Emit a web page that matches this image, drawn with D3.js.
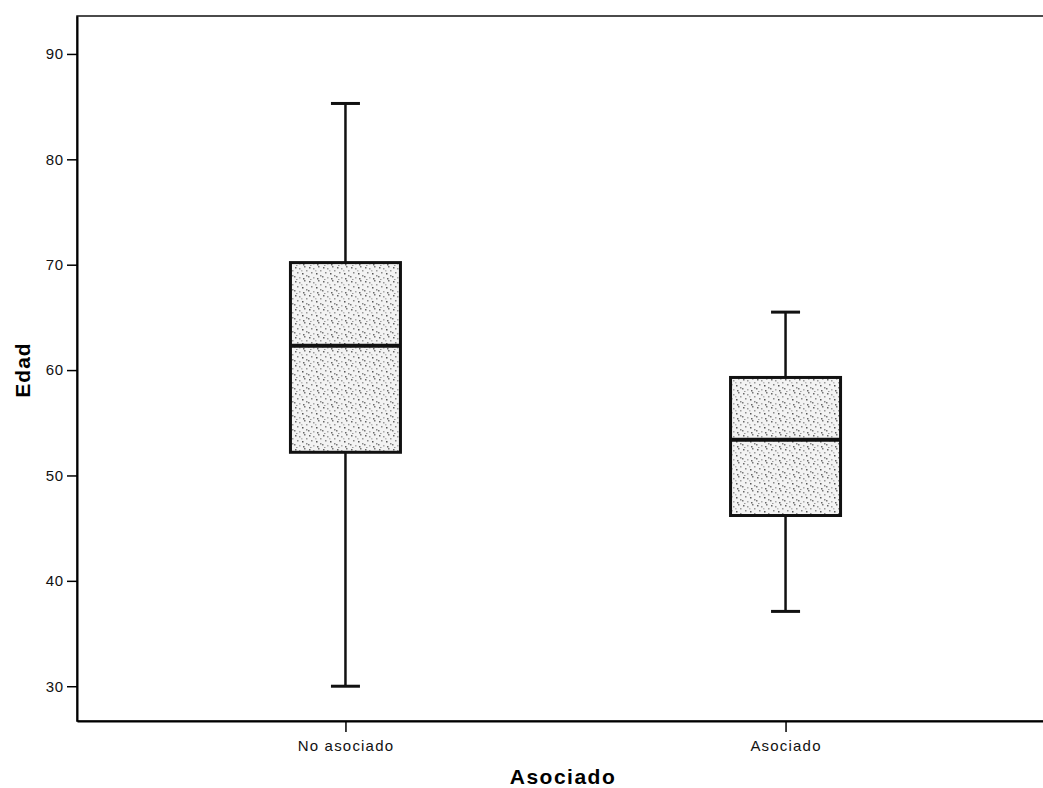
<!DOCTYPE html>
<html>
<head>
<meta charset="utf-8">
<script src="https://cdn.jsdelivr.net/npm/d3@7"></script>
<style>
  body { margin: 0; background: #fff; }
  text { font-family: "Liberation Sans", Arial, sans-serif; }
</style>
</head>
<body>
<div id="chart"></div>
<script>
// Box plot of Edad by Asociado

const width = 1043;
const height = 788;
const margin = { left: 77, right: -11, top: 16, bottom: 67 };

// data
const groups = ["No asociado", "Asociado"];
const whiskerLow = [30.0, 37.1];
const quartile1 = [52.2, 46.2];
const medians = [62.3, 53.4];
const quartile3 = [70.2, 59.3];
const whiskerHigh = [85.3, 65.5];
const yTicks = [30, 40, 50, 60, 70, 80, 90];

const boxes = groups.map((g, i) => ({
  name: g,
  lo: whiskerLow[i], q1: quartile1[i], med: medians[i], q3: quartile3[i], hi: whiskerHigh[i]
}));

const svg = d3.select("#chart")
  .append("svg")
  .attr("width", width)
  .attr("height", height);

// stipple texture for the boxes
const defs = svg.append("defs");
const pat = defs.append("pattern")
  .attr("id", "stipple")
  .attr("patternUnits", "userSpaceOnUse")
  .attr("width", 14)
  .attr("height", 14);
pat.append("rect").attr("width", 14).attr("height", 14).attr("fill", "#f3f3f3");
const specks = [[1,1,"#666"],[5,2,"#999"],[10,0,"#777"],[3,6,"#888"],[8,7,"#555"],[12,4,"#999"],
  [0,10,"#777"],[5,11,"#aaa"],[9,12,"#666"],[12,9,"#888"],[2,13,"#999"],[7,4,"#bbb"]];
specks.forEach(s => pat.append("rect")
  .attr("x", s[0]).attr("y", s[1]).attr("width", 1.5).attr("height", 1.5).attr("fill", s[2]));

// scales
const x = d3.scalePoint()
  .domain(groups)
  .range([margin.left, width - margin.right])
  .padding(0.61);

const y = d3.scaleLinear()
  .domain([26.7, 93.6])
  .range([height - margin.bottom, margin.top]);

// frame
svg.append("rect")
  .attr("x", margin.left)
  .attr("y", margin.top)
  .attr("width", width - margin.right - margin.left)
  .attr("height", height - margin.bottom - margin.top)
  .attr("fill", "none")
  .attr("stroke", "#111")
  .attr("stroke-width", 1.5);

// y axis
svg.append("g")
  .attr("transform", `translate(${margin.left},0)`)
  .call(d3.axisLeft(y).tickValues(yTicks).tickSize(10).tickPadding(3).tickSizeOuter(0))
  .call(g => g.select(".domain").attr("stroke-width", 2))
  .call(g => g.selectAll(".tick line").attr("stroke-width", 1.5))
  .call(g => g.selectAll(".tick text")
    .attr("font-size", "15px")
    .attr("letter-spacing", "0.8px")
    .attr("fill", "#111"));

// x axis
svg.append("g")
  .attr("transform", `translate(0,${height - margin.bottom})`)
  .call(d3.axisBottom(x).tickSize(11).tickPadding(8).tickSizeOuter(0))
  .call(g => g.select(".domain").attr("stroke-width", 2))
  .call(g => g.selectAll(".tick line").attr("stroke-width", 1.5))
  .call(g => g.selectAll(".tick text")
    .attr("font-size", "15px")
    .attr("letter-spacing", "1.2px")
    .attr("fill", "#111"));

// axis titles
svg.append("text")
  .attr("x", 563)
  .attr("y", 784)
  .attr("text-anchor", "middle")
  .attr("font-size", "21px")
  .attr("font-weight", "bold")
  .attr("letter-spacing", "1.5px")
  .text("Asociado");

svg.append("text")
  .attr("transform", "translate(30,370) rotate(-90)")
  .attr("text-anchor", "middle")
  .attr("font-size", "21px")
  .attr("font-weight", "bold")
  .attr("letter-spacing", "1px")
  .text("Edad");

// boxes
const boxW = 110;
const capW = 29;

const bx = svg.selectAll(".box")
  .data(boxes)
  .enter()
  .append("g")
  .attr("class", "box");

// whiskers
bx.append("line")
  .attr("x1", d => x(d.name)).attr("x2", d => x(d.name))
  .attr("y1", d => y(d.hi)).attr("y2", d => y(d.q3))
  .attr("stroke", "#111").attr("stroke-width", 2.5);
bx.append("line")
  .attr("x1", d => x(d.name)).attr("x2", d => x(d.name))
  .attr("y1", d => y(d.q1)).attr("y2", d => y(d.lo))
  .attr("stroke", "#111").attr("stroke-width", 2.5);

// caps
bx.append("line")
  .attr("x1", d => x(d.name) - capW / 2).attr("x2", d => x(d.name) + capW / 2)
  .attr("y1", d => y(d.hi)).attr("y2", d => y(d.hi))
  .attr("stroke", "#111").attr("stroke-width", 3);
bx.append("line")
  .attr("x1", d => x(d.name) - capW / 2).attr("x2", d => x(d.name) + capW / 2)
  .attr("y1", d => y(d.lo)).attr("y2", d => y(d.lo))
  .attr("stroke", "#111").attr("stroke-width", 3);

// box body
bx.append("rect")
  .attr("x", d => x(d.name) - boxW / 2)
  .attr("y", d => y(d.q3))
  .attr("width", boxW)
  .attr("height", d => y(d.q1) - y(d.q3))
  .attr("fill", "url(#stipple)")
  .attr("stroke", "#111")
  .attr("stroke-width", 3);

// median
bx.append("line")
  .attr("x1", d => x(d.name) - boxW / 2).attr("x2", d => x(d.name) + boxW / 2)
  .attr("y1", d => y(d.med)).attr("y2", d => y(d.med))
  .attr("stroke", "#111").attr("stroke-width", 4);
</script>
</body>
</html>
